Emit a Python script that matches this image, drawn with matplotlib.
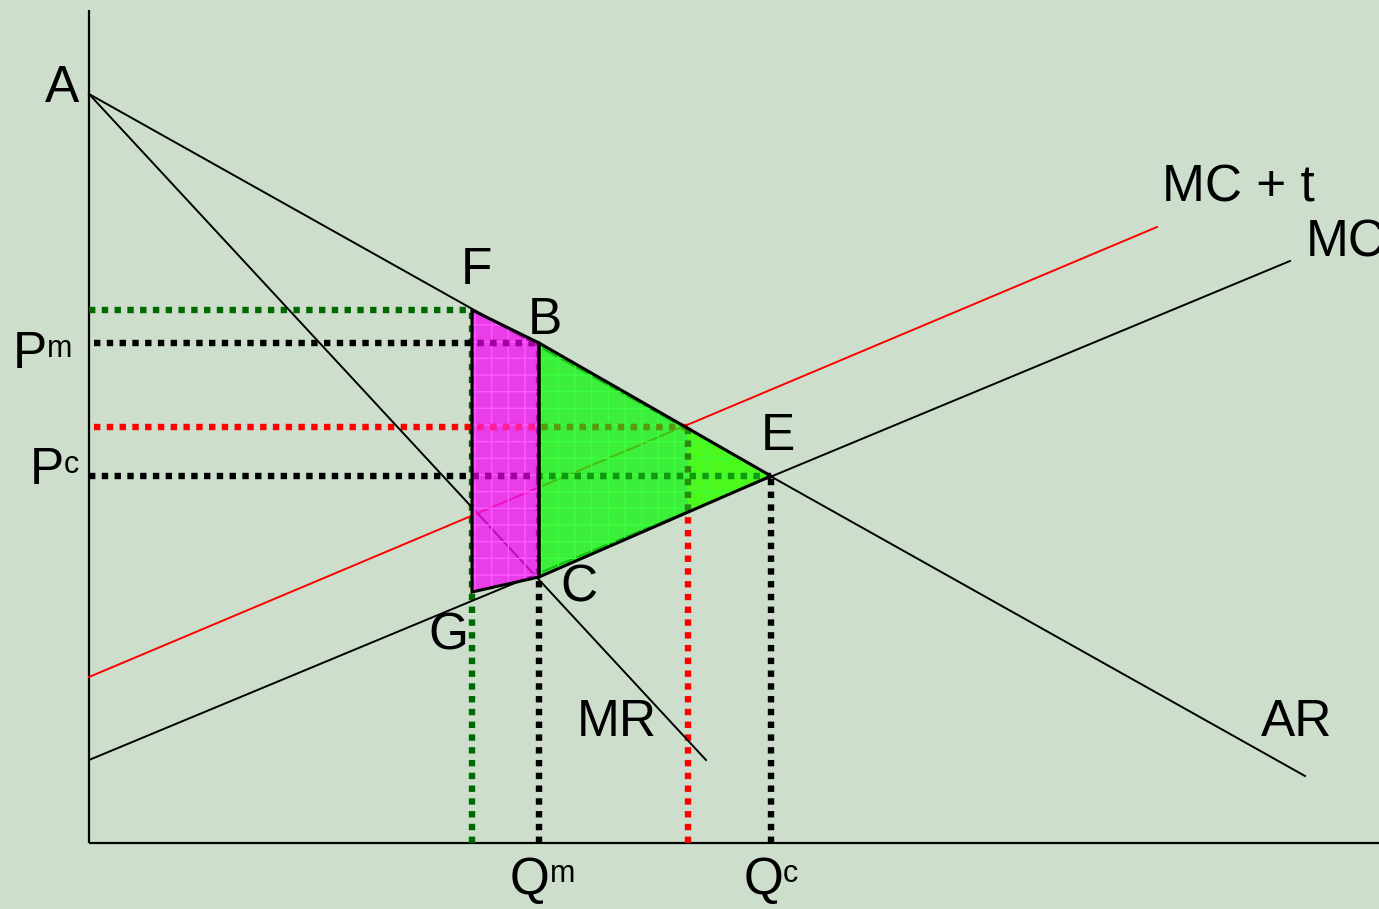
import matplotlib
matplotlib.use('Agg')
import matplotlib.pyplot as plt
from matplotlib.patches import Polygon

plt.rcParams['font.family'] = ['Liberation Sans', 'DejaVu Sans']
plt.rcParams['hatch.linewidth'] = 1.0

# 坐标: 横轴为数量 Q, 纵轴为价格 P
A = (0, 749)
F = (383, 533)
B = (450, 500)
C = (450, 266)
G = (383, 251)
E = (682, 367)
T = (599, 416)      # AR 与 MC+t 的交点
T_low = (599, 332)  # 同一数量下的 MC

ar_end = (1216, 67)
mr_end = (617, 83)
mc_line = [(0, 83), (1201, 582)]
mct_line = [(0, 166), (1068, 616)]

bg = '#cddfcc'
fig = plt.figure(figsize=(13.79, 9.09), dpi=100, facecolor=bg)
ax = fig.add_axes([0, 0, 1, 1])
ax.set_facecolor(bg)
ax.set_xlim(-89, 1290)
ax.set_ylim(-66, 843)
ax.axis('off')

# 坐标轴
ax.plot([0, 0], [0, 833], color='black', lw=1.6, solid_capstyle='butt')
ax.plot([0, 1290], [0, 0], color='black', lw=1.6, solid_capstyle='butt')

# 虚线 (画在填充区域下面)
dot = dict(lw=4.6, dashes=(1, 1), dash_capstyle='butt', zorder=2)
dgreen = '#006a00'
pm_h = ([5, B[0]], [B[1], B[1]])
pt_h = ([5, T[0]], [T[1], T[1]])
pc_h = ([0, E[0]], [E[1], E[1]])
qt_v = ([T[0], T[0]], [0, T[1]])
ax.plot([0, F[0]], [F[1], F[1]], color=dgreen, **dot)
ax.plot([F[0], F[0]], [0, F[1]], color=dgreen, **dot)
ax.plot(*pm_h, color='black', **dot)
ax.plot([B[0], B[0]], [0, B[1]], color='black', **dot)
ax.plot(*pt_h, color='red', **dot)
ax.plot(*qt_v, color='red', **dot)
ax.plot(*pc_h, color='black', **dot)
ax.plot([E[0], E[0]], [0, E[1]], color='black', **dot)

# 曲线
ax.plot([A[0], ar_end[0]], [A[1], ar_end[1]], color='black', lw=1.4, zorder=2)
ax.plot([A[0], mr_end[0]], [A[1], mr_end[1]], color='black', lw=1.4, zorder=2)
ax.plot([p[0] for p in mc_line], [p[1] for p in mc_line], color='black', lw=1.4, zorder=2)
ax.plot([p[0] for p in mct_line], [p[1] for p in mct_line], color='red', lw=1.4, zorder=2)

# 填充区域
mag = [F, B, C, G]
grn = [B, E, C]
ylw = [T, E, T_low]
mag_p = Polygon(mag, closed=True, facecolor='#f010f0', alpha=0.78, lw=0, zorder=3)
grn_p = Polygon(grn, closed=True, facecolor='#14f414', alpha=0.78, lw=0, zorder=3)
ax.add_patch(mag_p)
ax.add_patch(grn_p)
ax.add_patch(Polygon(ylw, closed=True, facecolor='#58ff08', alpha=0.6, lw=0, zorder=3.1))
ax.add_patch(Polygon(mag, closed=True, facecolor='none', edgecolor='#ff58ff', hatch='+', lw=0, zorder=3.2))
ax.add_patch(Polygon(grn, closed=True, facecolor='none', edgecolor='#3cff3c', hatch='+', lw=0, zorder=3.2))

# 区域内部的虚线颜色 (裁剪到填充区域)
inner = dict(lw=4.6, dashes=(1, 1), dash_capstyle='butt', zorder=3.5)
for xy, col in [(pm_h, '#a000a0'), (pt_h, '#ff1e96'), (pc_h, '#a000a0')]:
    ln, = ax.plot(*xy, color=col, **inner)
    ln.set_clip_path(mag_p)
for xy, col in [(pm_h, '#109a10'), (pt_h, '#5a9a10'), (pc_h, '#109a10'), (qt_v, '#2a8a10')]:
    ln, = ax.plot(*xy, color=col, **inner)
    ln.set_clip_path(grn_p)

ax.add_patch(Polygon(mag, closed=True, facecolor='none', edgecolor='black', lw=2.2, zorder=4))
ax.add_patch(Polygon(grn, closed=True, facecolor='none', edgecolor='black', lw=2.2, zorder=4))

# 标注
fs = 37
sub = 22
ax.text(-27, 755, 'A', fontsize=fs, ha='center', va='center')
ax.text(387, 572, 'F', fontsize=fs, ha='center', va='center')
ax.text(456, 522, 'B', fontsize=fs, ha='center', va='center')
ax.text(689, 406, 'E', fontsize=fs, ha='center', va='center')
ax.text(490, 255, 'C', fontsize=fs, ha='center', va='center')
ax.text(359, 207, 'G', fontsize=fs, ha='center', va='center')
ax.text(528, 121, 'MR', fontsize=fs, ha='center', va='center')
ax.text(1208, 121, 'AR', fontsize=fs, ha='center', va='center')
ax.text(1149, 655, 'MC + t', fontsize=fs, ha='center', va='center')
ax.text(1217, 600, 'MC', fontsize=fs, ha='left', va='center')

ax.text(-42, 489, 'P', fontsize=fs, ha='right', va='center')
ax.text(-42, 494, 'm', fontsize=sub, ha='left', va='center')
ax.text(-25, 373, 'P', fontsize=fs, ha='right', va='center')
ax.text(-25, 378, 'c', fontsize=sub, ha='left', va='center')
ax.text(461, -38, 'Q', fontsize=fs, ha='right', va='center')
ax.text(461, -31, 'm', fontsize=sub, ha='left', va='center')
ax.text(694, -38, 'Q', fontsize=fs, ha='right', va='center')
ax.text(694, -31, 'c', fontsize=sub, ha='left', va='center')

fig.savefig('out.png', dpi=100, facecolor=bg)
